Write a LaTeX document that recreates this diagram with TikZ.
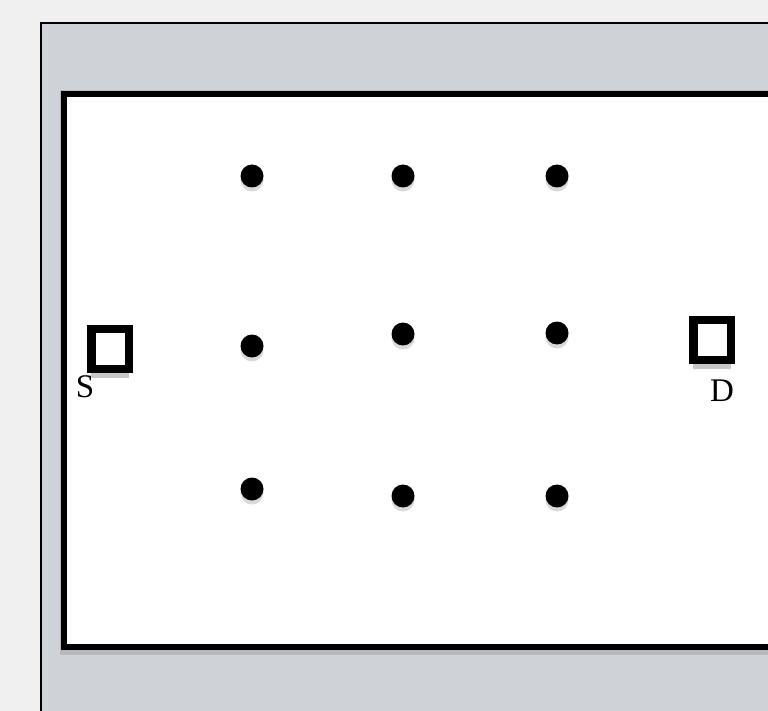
\documentclass[tikz,border=0pt]{standalone}
\usepackage{fontspec}
\setmainfont{Liberation Serif}
\usetikzlibrary{shadows}
\definecolor{pagebg}{HTML}{F0F0F0}
\definecolor{panelgray}{HTML}{CFD2D6}
\definecolor{edgegray}{HTML}{B7B9BD}
\definecolor{dotshade}{HTML}{D9D9D9}
\begin{document}
\begin{tikzpicture}[x=1pt, y=-1pt, line join=miter,
  sensor/.style={circle, fill=black, inner sep=0pt, minimum size=23pt,
    drop shadow={shadow xshift=0pt, shadow yshift=-4pt, fill=dotshade, opacity=1}},
  terminal/.style={rectangle, draw=black, line width=8.5pt, fill=white, inner sep=0pt,
    minimum width=37.5pt, minimum height=40pt,
    drop shadow={shadow xshift=0pt, shadow yshift=-9pt, fill=black!22, opacity=1}},
  tag/.style={font=\fontsize{33}{33}\selectfont, inner sep=0pt}]
  \useasboundingbox (0, 0) rectangle (768, 711);
  \clip (0, 0) rectangle (768, 711);
  \fill[pagebg] (0, 0) rectangle (768, 711);

  % Panel and field
  \draw[line width=2pt, fill=panelgray] (41, 23) rectangle (820, 760);
  \fill[edgegray] (60, 90) rectangle (820, 655);
  \draw[line width=6pt, fill=white] (64, 94) rectangle (820, 646.5);

  % Sensor grid
  \foreach \px/\py [count=\i] in {252/176, 403/176, 557/176,
                                  252/346, 403/334, 557/333,
                                  252/489, 403/496, 557/496}
    \node[sensor] (n\i) at (\px, \py) {};

  % Source and destination
  \node[terminal] (src) at (110, 349) {};
  \node[terminal] (dst) at (712, 340) {};
  \node[tag] (srclabel) at (85, 387) {S};
  \node[tag] (dstlabel) at (722, 391) {D};
\end{tikzpicture}
\end{document}
